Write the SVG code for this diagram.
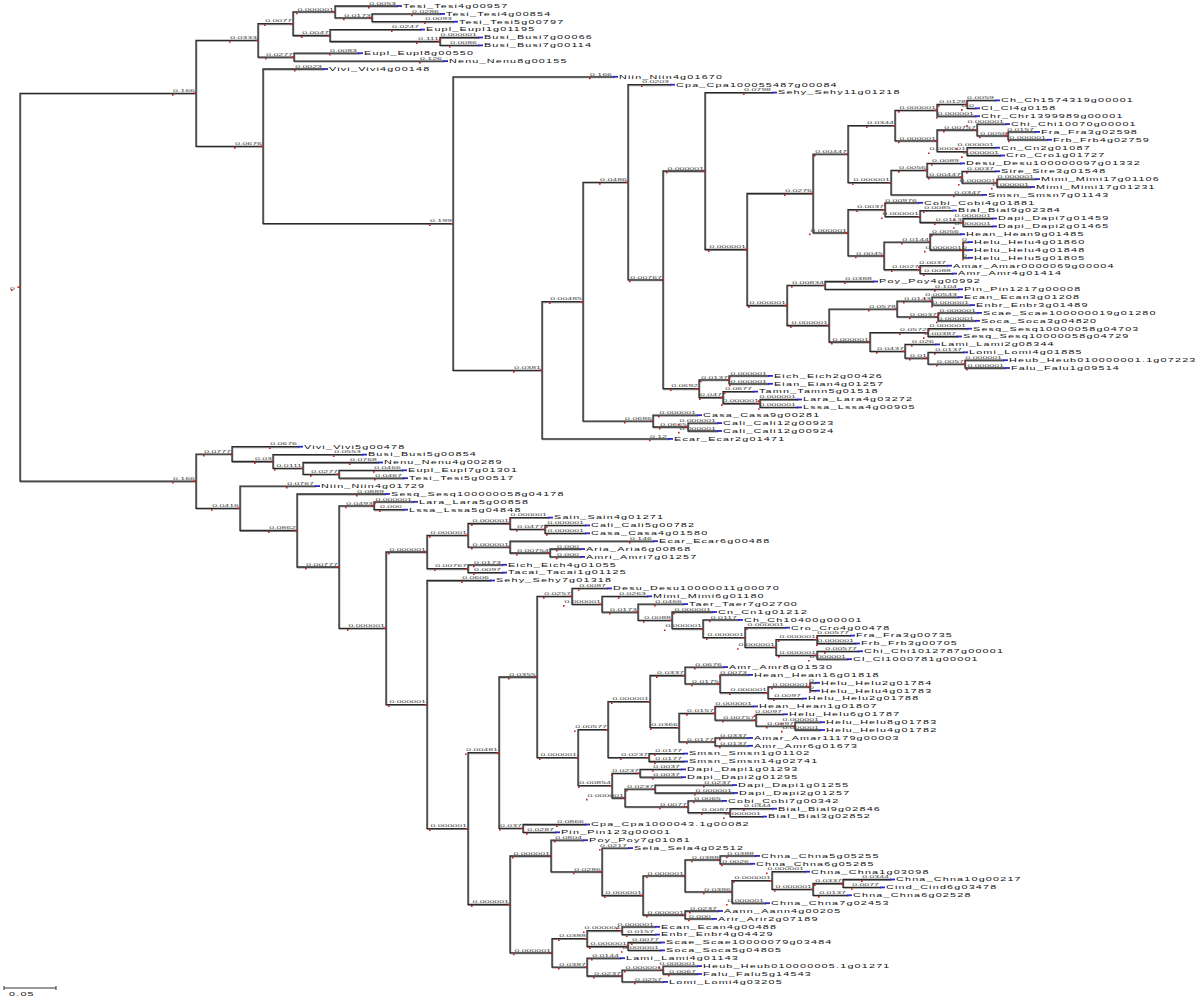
<svg xmlns="http://www.w3.org/2000/svg" xmlns:xlink="http://www.w3.org/1999/xlink" width="1200" height="1000" viewBox="0 0 1200 1000">
<style>
.e{stroke:#2a2a2a;stroke-width:1.3;fill:none;stroke-linecap:square}
.s{stroke:#9a9a9a;stroke-width:1.3;fill:none;stroke-linecap:square}
.l{font-family:"Liberation Sans",Arial,sans-serif;font-size:4.4px;fill:#444;text-anchor:end;transform:scale(2,1)}
.n{font-family:"Liberation Sans",Arial,sans-serif;font-size:5.4px;letter-spacing:0.6px;fill:#111;transform:scale(2,1)}
.r{fill:#d01c1c}
.b{stroke:#2a2acc;stroke-width:1.8}
</style>
<defs>
<path id="br" d="M20 93.3V481.2M20 93.3H196M196 40.4V146.3M196 40.4H258M258 23.7V57.2M258 23.7H293M293 11.9V35.5M293 11.9H335M335 6V17.8M335 6H397M335 17.8H372M372 13.9V21.7M372 13.9H440M372 21.7H453M293 35.5H330M330 29.6V41.5M330 29.6H420M330 41.5H440M440 37.5V45.4M440 37.5H478M440 45.4H478M258 57.2H294M294 53.2V61.1M294 53.2H358M294 61.1H443M196 146.3H263M263 69V223.6M263 69H323M263 223.6H453M453 76.8V370.3M453 76.8H613M453 370.3H542M542 301.7V438.9M542 301.7H583M583 182.3V421.1M583 182.3H628M628 84.7V279.9M628 84.7H670M628 279.9H663M663 171V388.7M663 171H705M705 92.6V249.5M705 92.6H772M705 249.5H747M747 193.5V305.5M747 193.5H813M813 154.1V232.8M813 154.1H848M848 125.6V182.6M848 125.6H895M895 110.3V140.8M895 110.3H937M937 104.4V116.2M937 104.4H967M967 100.4V108.3M967 100.4H995M967 108.3H975M937 116.2H975M895 140.8H937M937 130V151.6M937 130H977M977 124.1V135.9M977 124.1H1005M977 135.9H1008M1008 131.9V139.8M1008 131.9H1035M1008 139.8H1047M937 151.6H967M967 147.7V155.5M967 147.7H995M967 155.5H1000M848 182.6H891M891 170.3V194.9M891 170.3H927M927 163.4V177.2M927 163.4H960M927 177.2H962M962 171.3V183.1M962 171.3H995M962 183.1H997M997 179.1V187M997 179.1H1035M997 187H1030M891 194.9H982M813 232.8H848M848 209.7V255.9M848 209.7H885M885 202.8V216.6M885 202.8H918M885 216.6H920M920 210.6V222.5M920 210.6H952M920 222.5H963M963 218.5V226.4M963 218.5H992M963 226.4H992M848 255.9H884M884 242.1V269.7M884 242.1H930M930 234.2V250M930 234.2H960M930 250H963M963 242.1V257.8M963 242.1H968M963 250H968M963 257.8H968M884 269.7H920M920 265.7V273.6M920 265.7H947M920 273.6H952M747 305.5H787M787 285.4V325.5M787 285.4H825M825 281.5V289.3M825 281.5H873M825 289.3H958M787 325.5H829M829 309.1V342M829 309.1H897M897 301.2V316.9M897 301.2H932M932 297.2V305.1M932 297.2H958M932 305.1H970M897 316.9H938M938 312.9V320.8M938 312.9H977M938 320.8H975M829 342H870M870 332.6V351.3M870 332.6H928M928 328.7V336.5M928 328.7H967M928 336.5H957M870 351.3H905M905 344.4V358.2M905 344.4H935M905 358.2H928M928 352.3V364.1M928 352.3H963M928 364.1H965M965 360.2V368M965 360.2H1003M965 368H1005M663 388.7H699M699 379.9V397.5M699 379.9H729M729 375.9V383.8M729 375.9H768M729 383.8H768M699 397.5H723M723 391.6V403.5M723 391.6H753M723 403.5H760M760 399.5V407.4M760 399.5H797M760 407.4H797M583 421.1H653M653 415.2V427M653 415.2H697M653 427H688M688 423.1V431M688 423.1H717M688 431H717M542 438.9H668M20 481.2H196M196 454.1V508.3M196 454.1H232M232 446.7V461.5M232 446.7H298M232 461.5H273M273 454.6V468.4M273 454.6H362M273 468.4H303M303 462.5V474.3M303 462.5H378M303 474.3H339M339 470.3V478.2M339 470.3H402M339 478.2H403M196 508.3H240M240 486.1V530.5M240 486.1H315M240 530.5H297M297 494V567M297 494H385M297 567H339M339 505.8V628.3M339 505.8H374M374 501.8V509.7M374 501.8H413M374 509.7H403M339 628.3H386M386 552V704.6M386 552H427M427 535.3V568.7M427 535.3H468M468 523.5V547.1M468 523.5H510M510 517.6V529.4M510 517.6H548M510 529.4H545M545 525.4V533.3M545 525.4H585M545 533.3H585M468 547.1H510M510 541.2V553M510 541.2H653M510 553H550M550 549V556.9M550 549H580M550 556.9H580M427 568.7H468M468 564.8V572.6M468 564.8H502M468 572.6H502M386 704.6H427M427 580.5V828.6M427 580.5H490M427 828.6H468M468 752.7V904.5M468 752.7H499M499 677V828.4M499 677H537M537 596.3V757.6M537 596.3H572M572 588.4V604.3M572 588.4H607M572 604.3H602M602 596.3V612.2M602 596.3H647M602 612.2H638M638 604.1V620.4M638 604.1H683M638 620.4H672M672 612V628.7M672 612H712M672 628.7H703M703 619.9V637.6M703 619.9H738M703 637.6H745M745 627.7V647.4M745 627.7H785M745 647.4H776M776 639.6V655.3M776 639.6H817M817 635.6V643.5M817 635.6H850M817 643.5H855M776 655.3H817M817 651.3V659.2M817 651.3H858M817 659.2H847M537 757.6H578M578 729.6V785.6M578 729.6H608M608 701.6V757.6M608 701.6H650M650 675.5V727.6M650 675.5H685M685 667.1V683.8M685 667.1H723M685 683.8H720M720 674.9V692.7M720 674.9H748M720 692.7H768M768 686.8V698.6M768 686.8H810M810 682.8V690.7M810 682.8H815M810 690.7H815M768 698.6H802M650 727.6H679M679 713.3V741.9M679 713.3H715M715 706.4V720.2M715 706.4H753M715 720.2H756M756 714.3V726.1M756 714.3H783M756 726.1H795M795 722.2V730M795 722.2H820M795 730H820M679 741.9H715M715 737.9V745.8M715 737.9H748M715 745.8H748M608 757.6H649M649 753.6V761.5M649 753.6H683M649 761.5H683M578 785.6H612M612 773.3V798M612 773.3H640M640 769.4V777.2M640 769.4H681M640 777.2H681M612 798H625M625 789.1V806.8M625 789.1H655M655 785.1V793M655 785.1H732M655 793H733M625 806.8H688M688 800.9V812.7M688 800.9H722M688 812.7H730M730 808.7V816.6M730 808.7H772M730 816.6H762M499 828.4H523M523 824.5V832.3M523 824.5H585M523 832.3H555M468 904.5H510M510 856V952.9M510 856H551M551 840.2V871.8M551 840.2H583M551 871.8H602M602 848.1V895.5M602 848.1H628M602 895.5H643M643 875.9V915M643 875.9H685M685 859.9V891.9M685 859.9H720M720 855.9V863.8M720 855.9H755M720 863.8H750M685 891.9H732M732 880.6V903.2M732 880.6H772M772 871.7V889.4M772 871.7H805M772 889.4H813M813 883.5V895.3M813 883.5H843M843 879.5V887.4M843 879.5H890M843 887.4H880M813 895.3H847M732 903.2H765M643 915H685M685 911V918.9M685 911H718M685 918.9H712M510 952.9H552M552 938.6V967.1M552 938.6H587M587 930.7V946.5M587 930.7H622M622 926.8V934.6M622 926.8H655M622 934.6H655M587 946.5H628M628 942.5V950.4M628 942.5H660M628 950.4H660M552 967.1H587M587 958.2V976M587 958.2H620M587 976H622M622 970.1V981.9M622 970.1H663M663 966.1V974M663 966.1H697M663 974H697M622 981.9H663"/>
</defs>
<rect width="1200" height="1000" fill="#fff"/>
<g id="connectors">
<use xlink:href="#br" href="#br" class="s" transform="translate(0.7,0.8)"/>
<use xlink:href="#br" href="#br" class="e"/>
</g>
<g id="root"><text class="l" x="7.5" y="290">0</text><path class="r" d="M11 289.3h1.6v1.6h-1.6zM17.5 286.6h2.5v1.4h-2.5z"/></g>
<g id="nA"><text class="l" x="97.5" y="92.1">0.166</text><path class="r" d="M172 94.1h1.6v1.6h-1.6zM193.5 92.6h2.5v1.4h-2.5z"/></g>
<g id="n258"><text class="l" x="128.5" y="39.2">0.0333</text><path class="r" d="M229 41.2h1.6v1.6h-1.6zM255.5 39.7h2.5v1.4h-2.5z"/></g>
<g id="n293"><text class="l" x="146" y="22.5">0.0077</text><path class="r" d="M264 24.5h1.6v1.6h-1.6zM290.5 23h2.5v1.4h-2.5z"/></g>
<g id="n335"><text class="l" x="167" y="10.7">0.000001</text><path class="r" d="M296 12.7h1.6v1.6h-1.6zM332.5 11.2h2.5v1.4h-2.5z"/></g>
<g id="L0"><text class="l" x="198" y="4.8">0.0053</text><path class="r" d="M368 6.8h1.6v1.6h-1.6z"/><path class="b" d="M397 6h5"/><text class="n" x="201.5" y="7.9">Tesi_Tesi4g00957</text></g>
<g id="n372"><text class="l" x="185.5" y="16.6">0.0173</text><path class="r" d="M343 18.6h1.6v1.6h-1.6zM369.5 17.1h2.5v1.4h-2.5z"/></g>
<g id="L1"><text class="l" x="219.5" y="12.7">0.0286</text><path class="r" d="M411 14.7h1.6v1.6h-1.6z"/><path class="b" d="M440 13.9h5"/><text class="n" x="223" y="15.8">Tesi_Tesi4g00854</text></g>
<g id="L2"><text class="l" x="226" y="20.5">0.0093</text><path class="r" d="M424 22.5h1.6v1.6h-1.6z"/><path class="b" d="M453 21.7h5"/><text class="n" x="229.5" y="23.6">Tesi_Tesi5g00797</text></g>
<g id="n330"><text class="l" x="164.5" y="34.3">0.0047</text><path class="r" d="M301 36.3h1.6v1.6h-1.6zM327.5 34.8h2.5v1.4h-2.5z"/></g>
<g id="L3"><text class="l" x="209.5" y="28.4">0.0247</text><path class="r" d="M391 30.4h1.6v1.6h-1.6z"/><path class="b" d="M420 29.6h5"/><text class="n" x="213" y="31.5">Eupl_Eupl1g01195</text></g>
<g id="n440"><text class="l" x="219.5" y="40.3">0.111</text><path class="r" d="M416 42.3h1.6v1.6h-1.6zM437.5 40.8h2.5v1.4h-2.5z"/></g>
<g id="L4"><text class="l" x="238.5" y="36.3">0.000001</text><path class="r" d="M439 38.3h1.6v1.6h-1.6z"/><path class="b" d="M478 37.5h5"/><text class="n" x="242" y="39.4">Busi_Busi7g00066</text></g>
<g id="L5"><text class="l" x="238.5" y="44.2">0.0086</text><path class="r" d="M449 46.2h1.6v1.6h-1.6z"/><path class="b" d="M478 45.4h5"/><text class="n" x="242" y="47.3">Busi_Busi7g00114</text></g>
<g id="n294"><text class="l" x="146.5" y="56">0.0277</text><path class="r" d="M265 58h1.6v1.6h-1.6zM291.5 56.5h2.5v1.4h-2.5z"/></g>
<g id="L6"><text class="l" x="178.5" y="52">0.0083</text><path class="r" d="M329 54h1.6v1.6h-1.6z"/><path class="b" d="M358 53.2h5"/><text class="n" x="182" y="55.1">Eupl_Eupl8g00550</text></g>
<g id="L7"><text class="l" x="221" y="59.9">0.126</text><path class="r" d="M419 61.9h1.6v1.6h-1.6z"/><path class="b" d="M443 61.1h5"/><text class="n" x="224.5" y="63">Nenu_Nenu8g00155</text></g>
<g id="n263"><text class="l" x="131" y="145.1">0.0676</text><path class="r" d="M234 147.1h1.6v1.6h-1.6zM260.5 145.6h2.5v1.4h-2.5z"/></g>
<g id="L8"><text class="l" x="161" y="67.8">0.0023</text><path class="r" d="M294 69.8h1.6v1.6h-1.6z"/><path class="b" d="M323 69h5"/><text class="n" x="164.5" y="70.9">Vivi_Vivi4g00148</text></g>
<g id="n453"><text class="l" x="226" y="222.4">0.199</text><path class="r" d="M429 224.4h1.6v1.6h-1.6zM450.5 222.9h2.5v1.4h-2.5z"/></g>
<g id="L9"><text class="l" x="306" y="75.6">0.166</text><path class="r" d="M589 77.6h1.6v1.6h-1.6z"/><path class="b" d="M613 76.8h5"/><text class="n" x="309.5" y="78.7">Niin_Niin4g01670</text></g>
<g id="n542"><text class="l" x="270.5" y="369.1">0.0381</text><path class="r" d="M513 371.1h1.6v1.6h-1.6zM539.5 369.6h2.5v1.4h-2.5z"/></g>
<g id="n583"><text class="l" x="291" y="300.5">0.00485</text><path class="r" d="M549 302.5h1.6v1.6h-1.6zM580.5 301h2.5v1.4h-2.5z"/></g>
<g id="n628"><text class="l" x="313.5" y="181.1">0.0486</text><path class="r" d="M599 183.1h1.6v1.6h-1.6zM625.5 181.6h2.5v1.4h-2.5z"/></g>
<g id="L10"><text class="l" x="334.5" y="83.5">0.0203</text><path class="r" d="M641 85.5h1.6v1.6h-1.6z"/><path class="b" d="M670 84.7h5"/><text class="n" x="338" y="86.6">Cpa_Cpa100055487g00084</text></g>
<g id="n663"><text class="l" x="331" y="278.7">0.00767</text><path class="r" d="M629 280.7h1.6v1.6h-1.6zM660.5 279.2h2.5v1.4h-2.5z"/></g>
<g id="n705"><text class="l" x="352" y="169.8">0.000001</text><path class="r" d="M666 171.8h1.6v1.6h-1.6zM702.5 170.3h2.5v1.4h-2.5z"/></g>
<g id="L11"><text class="l" x="385.5" y="91.4">0.0798</text><path class="r" d="M743 93.4h1.6v1.6h-1.6z"/><path class="b" d="M772 92.6h5"/><text class="n" x="389" y="94.5">Sehy_Sehy11g01218</text></g>
<g id="n747"><text class="l" x="373" y="248.3">0.000001</text><path class="r" d="M708 250.3h1.6v1.6h-1.6zM744.5 248.8h2.5v1.4h-2.5z"/></g>
<g id="n813"><text class="l" x="406" y="192.3">0.0276</text><path class="r" d="M784 194.3h1.6v1.6h-1.6zM810.5 192.8h2.5v1.4h-2.5z"/></g>
<g id="n848a"><text class="l" x="423.5" y="152.9">0.00447</text><path class="r" d="M814 154.9h1.6v1.6h-1.6zM845.5 153.4h2.5v1.4h-2.5z"/></g>
<g id="n895"><text class="l" x="447" y="124.4">0.0344</text><path class="r" d="M866 126.4h1.6v1.6h-1.6zM892.5 124.9h2.5v1.4h-2.5z"/></g>
<g id="n937a"><text class="l" x="468" y="109.1">0.000001</text><path class="r" d="M898 111.1h1.6v1.6h-1.6zM934.5 109.6h2.5v1.4h-2.5z"/></g>
<g id="n967a"><text class="l" x="483" y="103.2">0.0128</text><path class="r" d="M938 105.2h1.6v1.6h-1.6zM964.5 103.7h2.5v1.4h-2.5z"/></g>
<g id="L12"><text class="l" x="497" y="99.2">0.0059</text><path class="r" d="M966 101.2h1.6v1.6h-1.6z"/><path class="b" d="M995 100.4h5"/><text class="n" x="500.5" y="102.3">Ch_Ch1574319g00001</text></g>
<g id="L13"><text class="l" x="487" y="107.1">0.0</text><path class="r" d="M961 109.1h1.6v1.6h-1.6z"/><path class="b" d="M975 108.3h5"/><text class="n" x="490.5" y="110.2">Cl_Cl4g0158</text></g>
<g id="L14"><text class="l" x="487" y="115">0.000001</text><path class="r" d="M936 117h1.6v1.6h-1.6z"/><path class="b" d="M975 116.2h5"/><text class="n" x="490.5" y="118.1">Chr_Chr1399989g00001</text></g>
<g id="n937b"><text class="l" x="468" y="139.6">0.000001</text><path class="r" d="M898 141.6h1.6v1.6h-1.6zM934.5 140.1h2.5v1.4h-2.5z"/></g>
<g id="n977"><text class="l" x="488" y="128.8">0.00757</text><path class="r" d="M943 130.8h1.6v1.6h-1.6zM974.5 129.3h2.5v1.4h-2.5z"/></g>
<g id="L15"><text class="l" x="502" y="122.9">0.000001</text><path class="r" d="M966 124.9h1.6v1.6h-1.6z"/><path class="b" d="M1005 124.1h5"/><text class="n" x="505.5" y="126">Chi_Chi10070g00001</text></g>
<g id="n1008"><text class="l" x="503.5" y="134.7">0.0056</text><path class="r" d="M979 136.7h1.6v1.6h-1.6zM1005.5 135.2h2.5v1.4h-2.5z"/></g>
<g id="L16"><text class="l" x="517" y="130.7">0.0157</text><path class="r" d="M1006 132.7h1.6v1.6h-1.6z"/><path class="b" d="M1035 131.9h5"/><text class="n" x="520.5" y="133.8">Fra_Fra3g02598</text></g>
<g id="L17"><text class="l" x="523" y="138.6">0.000001</text><path class="r" d="M1008 140.6h1.6v1.6h-1.6z"/><path class="b" d="M1047 139.8h5"/><text class="n" x="526.5" y="141.7">Frb_Frb4g02759</text></g>
<g id="n967b"><text class="l" x="483" y="150.4">0.000001</text><path class="r" d="M928 152.4h1.6v1.6h-1.6zM964.5 150.9h2.5v1.4h-2.5z"/></g>
<g id="L18"><text class="l" x="497" y="146.5">0.000001</text><path class="r" d="M956 148.5h1.6v1.6h-1.6z"/><path class="b" d="M995 147.7h5"/><text class="n" x="500.5" y="149.6">Cn_Cn2g01087</text></g>
<g id="L19"><text class="l" x="499.5" y="154.3">0.000001</text><path class="r" d="M961 156.3h1.6v1.6h-1.6z"/><path class="b" d="M1000 155.5h5"/><text class="n" x="503" y="157.4">Cro_Cro1g01727</text></g>
<g id="n891"><text class="l" x="445" y="181.4">0.000001</text><path class="r" d="M852 183.4h1.6v1.6h-1.6zM888.5 181.9h2.5v1.4h-2.5z"/></g>
<g id="n927"><text class="l" x="463" y="169.1">0.0056</text><path class="r" d="M898 171.1h1.6v1.6h-1.6zM924.5 169.6h2.5v1.4h-2.5z"/></g>
<g id="L20"><text class="l" x="479.5" y="162.2">0.0089</text><path class="r" d="M931 164.2h1.6v1.6h-1.6z"/><path class="b" d="M960 163.4h5"/><text class="n" x="483" y="165.3">Desu_Desu100000097g01332</text></g>
<g id="n962"><text class="l" x="480.5" y="176">0.00447</text><path class="r" d="M928 178h1.6v1.6h-1.6zM959.5 176.5h2.5v1.4h-2.5z"/></g>
<g id="L21"><text class="l" x="497" y="170.1">0.0037</text><path class="r" d="M966 172.1h1.6v1.6h-1.6z"/><path class="b" d="M995 171.3h5"/><text class="n" x="500.5" y="173.2">Sire_Sire3g01548</text></g>
<g id="n997"><text class="l" x="498" y="181.9">0.000001</text><path class="r" d="M958 183.9h1.6v1.6h-1.6zM994.5 182.4h2.5v1.4h-2.5z"/></g>
<g id="L22"><text class="l" x="517" y="177.9">0.000001</text><path class="r" d="M996 179.9h1.6v1.6h-1.6z"/><path class="b" d="M1035 179.1h5"/><text class="n" x="520.5" y="181">Mimi_Mimi17g01106</text></g>
<g id="L23"><text class="l" x="514.5" y="185.8">0.000001</text><path class="r" d="M991 187.8h1.6v1.6h-1.6z"/><path class="b" d="M1030 187h5"/><text class="n" x="518" y="188.9">Mimi_Mimi17g01231</text></g>
<g id="L24"><text class="l" x="490.5" y="193.7">0.0347</text><path class="r" d="M953 195.7h1.6v1.6h-1.6z"/><path class="b" d="M982 194.9h5"/><text class="n" x="494" y="196.8">Smsn_Smsn7g01143</text></g>
<g id="n848b"><text class="l" x="423.5" y="231.6">0.000001</text><path class="r" d="M809 233.6h1.6v1.6h-1.6zM845.5 232.1h2.5v1.4h-2.5z"/></g>
<g id="n885"><text class="l" x="442" y="208.5">0.0037</text><path class="r" d="M856 210.5h1.6v1.6h-1.6zM882.5 209h2.5v1.4h-2.5z"/></g>
<g id="L25"><text class="l" x="458.5" y="201.6">0.00976</text><path class="r" d="M884 203.6h1.6v1.6h-1.6z"/><path class="b" d="M918 202.8h5"/><text class="n" x="462" y="204.7">Cobi_Cobi4g01881</text></g>
<g id="n920"><text class="l" x="459.5" y="215.4">0.000001</text><path class="r" d="M881 217.4h1.6v1.6h-1.6zM917.5 215.9h2.5v1.4h-2.5z"/></g>
<g id="L26"><text class="l" x="475.5" y="209.4">0.0085</text><path class="r" d="M923 211.4h1.6v1.6h-1.6z"/><path class="b" d="M952 210.6h5"/><text class="n" x="479" y="212.5">Bial_Bial9g02384</text></g>
<g id="n963a"><text class="l" x="481" y="221.3">0.0113</text><path class="r" d="M934 223.3h1.6v1.6h-1.6zM960.5 221.8h2.5v1.4h-2.5z"/></g>
<g id="L27"><text class="l" x="495.5" y="217.3">0.000001</text><path class="r" d="M953 219.3h1.6v1.6h-1.6z"/><path class="b" d="M992 218.5h5"/><text class="n" x="499" y="220.4">Dapi_Dapi7g01459</text></g>
<g id="L28"><text class="l" x="495.5" y="225.2">0.000001</text><path class="r" d="M953 227.2h1.6v1.6h-1.6z"/><path class="b" d="M992 226.4h5"/><text class="n" x="499" y="228.3">Dapi_Dapi2g01465</text></g>
<g id="n884"><text class="l" x="441.5" y="254.7">0.0045</text><path class="r" d="M855 256.7h1.6v1.6h-1.6zM881.5 255.2h2.5v1.4h-2.5z"/></g>
<g id="n930"><text class="l" x="464.5" y="240.9">0.0144</text><path class="r" d="M901 242.9h1.6v1.6h-1.6zM927.5 241.4h2.5v1.4h-2.5z"/></g>
<g id="L29"><text class="l" x="479.5" y="233">0.0056</text><path class="r" d="M931 235h1.6v1.6h-1.6z"/><path class="b" d="M960 234.2h5"/><text class="n" x="483" y="236.1">Hean_Hean9g01485</text></g>
<g id="n963b"><text class="l" x="481" y="248.8">0.000001</text><path class="r" d="M924 250.8h1.6v1.6h-1.6zM960.5 249.3h2.5v1.4h-2.5z"/></g>
<g id="L30"><text class="l" x="483.5" y="240.9">0</text><path class="r" d="M962 242.9h1.6v1.6h-1.6z"/><path class="b" d="M968 242.1h5"/><text class="n" x="487" y="244">Helu_Helu4g01860</text></g>
<g id="L31"><text class="l" x="483.5" y="248.8">0</text><path class="r" d="M962 250.8h1.6v1.6h-1.6z"/><path class="b" d="M968 250h5"/><text class="n" x="487" y="251.9">Helu_Helu4g01848</text></g>
<g id="L32"><text class="l" x="483.5" y="256.6">0</text><path class="r" d="M962 258.6h1.6v1.6h-1.6z"/><path class="b" d="M968 257.8h5"/><text class="n" x="487" y="259.7">Helu_Helu5g01805</text></g>
<g id="n920b"><text class="l" x="459.5" y="268.5">0.0027</text><path class="r" d="M891 270.5h1.6v1.6h-1.6zM917.5 269h2.5v1.4h-2.5z"/></g>
<g id="L33"><text class="l" x="473" y="264.5">0.0037</text><path class="r" d="M918 266.5h1.6v1.6h-1.6z"/><path class="b" d="M947 265.7h5"/><text class="n" x="476.5" y="267.6">Amar_Amar0000069g00004</text></g>
<g id="L34"><text class="l" x="475.5" y="272.4">0.0088</text><path class="r" d="M923 274.4h1.6v1.6h-1.6z"/><path class="b" d="M952 273.6h5"/><text class="n" x="479" y="275.5">Amr_Amr4g01414</text></g>
<g id="n787"><text class="l" x="393" y="304.3">0.000001</text><path class="r" d="M748 306.3h1.6v1.6h-1.6zM784.5 304.8h2.5v1.4h-2.5z"/></g>
<g id="n825"><text class="l" x="412" y="284.2">0.00834</text><path class="r" d="M791 286.2h1.6v1.6h-1.6zM822.5 284.7h2.5v1.4h-2.5z"/></g>
<g id="L35"><text class="l" x="436" y="280.3">0.0388</text><path class="r" d="M844 282.3h1.6v1.6h-1.6z"/><path class="b" d="M873 281.5h5"/><text class="n" x="439.5" y="283.4">Poy_Poy4g00992</text></g>
<g id="L36"><text class="l" x="478.5" y="288.1">0.104</text><path class="r" d="M934 290.1h1.6v1.6h-1.6z"/><path class="b" d="M958 289.3h5"/><text class="n" x="482" y="291.2">Pin_Pin1217g00008</text></g>
<g id="n829"><text class="l" x="414" y="324.3">0.000001</text><path class="r" d="M790 326.3h1.6v1.6h-1.6zM826.5 324.8h2.5v1.4h-2.5z"/></g>
<g id="n897"><text class="l" x="448" y="307.9">0.0578</text><path class="r" d="M868 309.9h1.6v1.6h-1.6zM894.5 308.4h2.5v1.4h-2.5z"/></g>
<g id="n932"><text class="l" x="465.5" y="300">0.0143</text><path class="r" d="M903 302h1.6v1.6h-1.6zM929.5 300.5h2.5v1.4h-2.5z"/></g>
<g id="L37"><text class="l" x="478.5" y="296">0.00543</text><path class="r" d="M924 298h1.6v1.6h-1.6z"/><path class="b" d="M958 297.2h5"/><text class="n" x="482" y="299.1">Ecan_Ecan3g01208</text></g>
<g id="L38"><text class="l" x="484.5" y="303.9">0.000001</text><path class="r" d="M931 305.9h1.6v1.6h-1.6z"/><path class="b" d="M970 305.1h5"/><text class="n" x="488" y="307">Enbr_Enbr3g01489</text></g>
<g id="n938"><text class="l" x="468.5" y="315.7">0.0037</text><path class="r" d="M909 317.7h1.6v1.6h-1.6zM935.5 316.2h2.5v1.4h-2.5z"/></g>
<g id="L39"><text class="l" x="488" y="311.7">0.000001</text><path class="r" d="M938 313.7h1.6v1.6h-1.6z"/><path class="b" d="M977 312.9h5"/><text class="n" x="491.5" y="314.8">Scae_Scae100000019g01280</text></g>
<g id="L40"><text class="l" x="487" y="319.6">0.000001</text><path class="r" d="M936 321.6h1.6v1.6h-1.6z"/><path class="b" d="M975 320.8h5"/><text class="n" x="490.5" y="322.7">Soca_Soca3g04820</text></g>
<g id="n870"><text class="l" x="434.5" y="340.8">0.000001</text><path class="r" d="M831 342.8h1.6v1.6h-1.6zM867.5 341.3h2.5v1.4h-2.5z"/></g>
<g id="n928a"><text class="l" x="463.5" y="331.4">0.0572</text><path class="r" d="M899 333.4h1.6v1.6h-1.6zM925.5 331.9h2.5v1.4h-2.5z"/></g>
<g id="L41"><text class="l" x="483" y="327.5">0.000001</text><path class="r" d="M928 329.5h1.6v1.6h-1.6z"/><path class="b" d="M967 328.7h5"/><text class="n" x="486.5" y="330.6">Sesq_Sesq10000058g04703</text></g>
<g id="L42"><text class="l" x="478" y="335.3">0.00387</text><path class="r" d="M923 337.3h1.6v1.6h-1.6z"/><path class="b" d="M957 336.5h5"/><text class="n" x="481.5" y="338.4">Sesq_Sesq10000058g04729</text></g>
<g id="n905"><text class="l" x="452" y="350.1">0.0437</text><path class="r" d="M876 352.1h1.6v1.6h-1.6zM902.5 350.6h2.5v1.4h-2.5z"/></g>
<g id="L43"><text class="l" x="467" y="343.2">0.026</text><path class="r" d="M911 345.2h1.6v1.6h-1.6z"/><path class="b" d="M935 344.4h5"/><text class="n" x="470.5" y="346.3">Lami_Lami2g08344</text></g>
<g id="n928b"><text class="l" x="463.5" y="357">0.01</text><path class="r" d="M909 359h1.6v1.6h-1.6zM925.5 357.5h2.5v1.4h-2.5z"/></g>
<g id="L44"><text class="l" x="481" y="351.1">0.0137</text><path class="r" d="M934 353.1h1.6v1.6h-1.6z"/><path class="b" d="M963 352.3h5"/><text class="n" x="484.5" y="354.2">Lomi_Lomi4g01885</text></g>
<g id="n965"><text class="l" x="482" y="362.9">0.0057</text><path class="r" d="M936 364.9h1.6v1.6h-1.6zM962.5 363.4h2.5v1.4h-2.5z"/></g>
<g id="L45"><text class="l" x="501" y="359">0.000001</text><path class="r" d="M964 361h1.6v1.6h-1.6z"/><path class="b" d="M1003 360.2h5"/><text class="n" x="504.5" y="362.1">Heub_Heub010000001.1g07223</text></g>
<g id="L46"><text class="l" x="502" y="366.8">0.000001</text><path class="r" d="M966 368.8h1.6v1.6h-1.6z"/><path class="b" d="M1005 368h5"/><text class="n" x="505.5" y="369.9">Falu_Falu1g09514</text></g>
<g id="n699"><text class="l" x="349" y="387.5">0.0692</text><path class="r" d="M670 389.5h1.6v1.6h-1.6zM696.5 388h2.5v1.4h-2.5z"/></g>
<g id="n729"><text class="l" x="364" y="378.7">0.0137</text><path class="r" d="M700 380.7h1.6v1.6h-1.6zM726.5 379.2h2.5v1.4h-2.5z"/></g>
<g id="L47"><text class="l" x="383.5" y="374.7">0.000001</text><path class="r" d="M729 376.7h1.6v1.6h-1.6z"/><path class="b" d="M768 375.9h5"/><text class="n" x="387" y="377.8">Eich_Eich2g00426</text></g>
<g id="L48"><text class="l" x="383.5" y="382.6">0.000001</text><path class="r" d="M729 384.6h1.6v1.6h-1.6z"/><path class="b" d="M768 383.8h5"/><text class="n" x="387" y="385.7">Eian_Eian4g01257</text></g>
<g id="n723"><text class="l" x="361" y="396.3">0.047</text><path class="r" d="M699 398.3h1.6v1.6h-1.6zM720.5 396.8h2.5v1.4h-2.5z"/></g>
<g id="L49"><text class="l" x="376" y="390.4">0.0677</text><path class="r" d="M724 392.4h1.6v1.6h-1.6z"/><path class="b" d="M753 391.6h5"/><text class="n" x="379.5" y="393.5">Tamn_Tamn5g01518</text></g>
<g id="n760"><text class="l" x="379.5" y="402.3">0.000001</text><path class="r" d="M721 404.3h1.6v1.6h-1.6zM757.5 402.8h2.5v1.4h-2.5z"/></g>
<g id="L50"><text class="l" x="398" y="398.3">0.000001</text><path class="r" d="M758 400.3h1.6v1.6h-1.6z"/><path class="b" d="M797 399.5h5"/><text class="n" x="401.5" y="401.4">Lara_Lara4g03272</text></g>
<g id="L51"><text class="l" x="398" y="406.2">0.000001</text><path class="r" d="M758 408.2h1.6v1.6h-1.6z"/><path class="b" d="M797 407.4h5"/><text class="n" x="401.5" y="409.3">Lssa_Lssa4g00905</text></g>
<g id="n653"><text class="l" x="326" y="419.9">0.0686</text><path class="r" d="M624 421.9h1.6v1.6h-1.6zM650.5 420.4h2.5v1.4h-2.5z"/></g>
<g id="L52"><text class="l" x="348" y="414">0.000001</text><path class="r" d="M658 416h1.6v1.6h-1.6z"/><path class="b" d="M697 415.2h5"/><text class="n" x="351.5" y="417.1">Casa_Casa9g00281</text></g>
<g id="n688"><text class="l" x="343.5" y="425.8">0.0665</text><path class="r" d="M659 427.8h1.6v1.6h-1.6zM685.5 426.3h2.5v1.4h-2.5z"/></g>
<g id="L53"><text class="l" x="358" y="421.9">0.000001</text><path class="r" d="M678 423.9h1.6v1.6h-1.6z"/><path class="b" d="M717 423.1h5"/><text class="n" x="361.5" y="425">Cali_Cali12g00923</text></g>
<g id="L54"><text class="l" x="358" y="429.8">0.000001</text><path class="r" d="M678 431.8h1.6v1.6h-1.6z"/><path class="b" d="M717 431h5"/><text class="n" x="361.5" y="432.9">Cali_Cali12g00924</text></g>
<g id="L55"><text class="l" x="333.5" y="437.7">0.12</text><path class="r" d="M649 439.7h1.6v1.6h-1.6z"/><path class="b" d="M668 438.9h5"/><text class="n" x="337" y="440.8">Ecar_Ecar2g01471</text></g>
<g id="nB"><text class="l" x="97.5" y="480">0.166</text><path class="r" d="M172 482h1.6v1.6h-1.6zM193.5 480.5h2.5v1.4h-2.5z"/></g>
<g id="n232"><text class="l" x="115.5" y="452.9">0.0777</text><path class="r" d="M203 454.9h1.6v1.6h-1.6zM229.5 453.4h2.5v1.4h-2.5z"/></g>
<g id="L56"><text class="l" x="148.5" y="445.5">0.0676</text><path class="r" d="M269 447.5h1.6v1.6h-1.6z"/><path class="b" d="M298 446.7h5"/><text class="n" x="152" y="448.6">Vivi_Vivi5g00478</text></g>
<g id="n273"><text class="l" x="136" y="460.3">0.03</text><path class="r" d="M254 462.3h1.6v1.6h-1.6zM270.5 460.8h2.5v1.4h-2.5z"/></g>
<g id="L57"><text class="l" x="180.5" y="453.4">0.0553</text><path class="r" d="M333 455.4h1.6v1.6h-1.6z"/><path class="b" d="M362 454.6h5"/><text class="n" x="184" y="456.5">Busi_Busi5g00854</text></g>
<g id="n303"><text class="l" x="151" y="467.2">0.0111</text><path class="r" d="M274 469.2h1.6v1.6h-1.6zM300.5 467.7h2.5v1.4h-2.5z"/></g>
<g id="L58"><text class="l" x="188.5" y="461.3">0.0768</text><path class="r" d="M349 463.3h1.6v1.6h-1.6z"/><path class="b" d="M378 462.5h5"/><text class="n" x="192" y="464.4">Nenu_Nenu4g00289</text></g>
<g id="n339b"><text class="l" x="169" y="473.1">0.0277</text><path class="r" d="M310 475.1h1.6v1.6h-1.6zM336.5 473.6h2.5v1.4h-2.5z"/></g>
<g id="L59"><text class="l" x="200.5" y="469.1">0.0466</text><path class="r" d="M373 471.1h1.6v1.6h-1.6z"/><path class="b" d="M402 470.3h5"/><text class="n" x="204" y="472.2">Eupl_Eupl7g01301</text></g>
<g id="L60"><text class="l" x="201" y="477">0.0467</text><path class="r" d="M374 479h1.6v1.6h-1.6z"/><path class="b" d="M403 478.2h5"/><text class="n" x="204.5" y="480.1">Tesi_Tesi5g00517</text></g>
<g id="n240"><text class="l" x="119.5" y="507.1">0.0416</text><path class="r" d="M211 509.1h1.6v1.6h-1.6zM237.5 507.6h2.5v1.4h-2.5z"/></g>
<g id="L61"><text class="l" x="157" y="484.9">0.0767</text><path class="r" d="M286 486.9h1.6v1.6h-1.6z"/><path class="b" d="M315 486.1h5"/><text class="n" x="160.5" y="488">Niin_Niin4g01729</text></g>
<g id="n297"><text class="l" x="148" y="529.3">0.0862</text><path class="r" d="M268 531.3h1.6v1.6h-1.6zM294.5 529.8h2.5v1.4h-2.5z"/></g>
<g id="L62"><text class="l" x="192" y="492.8">0.0889</text><path class="r" d="M356 494.8h1.6v1.6h-1.6z"/><path class="b" d="M385 494h5"/><text class="n" x="195.5" y="495.9">Sesq_Sesq100000058g04178</text></g>
<g id="n339"><text class="l" x="169" y="565.8">0.00777</text><path class="r" d="M305 567.8h1.6v1.6h-1.6zM336.5 566.3h2.5v1.4h-2.5z"/></g>
<g id="n374"><text class="l" x="186.5" y="504.6">0.0493</text><path class="r" d="M345 506.6h1.6v1.6h-1.6zM371.5 505.1h2.5v1.4h-2.5z"/></g>
<g id="L63"><text class="l" x="206" y="500.6">0.000001</text><path class="r" d="M374 502.6h1.6v1.6h-1.6z"/><path class="b" d="M413 501.8h5"/><text class="n" x="209.5" y="503.7">Lara_Lara5g00858</text></g>
<g id="L64"><text class="l" x="201" y="508.5">0.000</text><path class="r" d="M379 510.5h1.6v1.6h-1.6z"/><path class="b" d="M403 509.7h5"/><text class="n" x="204.5" y="511.6">Lssa_Lssa5g04848</text></g>
<g id="n386"><text class="l" x="192.5" y="627.1">0.000001</text><path class="r" d="M347 629.1h1.6v1.6h-1.6zM383.5 627.6h2.5v1.4h-2.5z"/></g>
<g id="n427a"><text class="l" x="213" y="550.8">0.000001</text><path class="r" d="M388 552.8h1.6v1.6h-1.6zM424.5 551.3h2.5v1.4h-2.5z"/></g>
<g id="n468a"><text class="l" x="233.5" y="534.1">0.000001</text><path class="r" d="M429 536.1h1.6v1.6h-1.6zM465.5 534.6h2.5v1.4h-2.5z"/></g>
<g id="n510a"><text class="l" x="254.5" y="522.3">0.000001</text><path class="r" d="M471 524.3h1.6v1.6h-1.6zM507.5 522.8h2.5v1.4h-2.5z"/></g>
<g id="L65"><text class="l" x="273.5" y="516.4">0.000001</text><path class="r" d="M509 518.4h1.6v1.6h-1.6z"/><path class="b" d="M548 517.6h5"/><text class="n" x="277" y="519.5">Sain_Sain4g01271</text></g>
<g id="n545"><text class="l" x="272" y="528.2">0.0477</text><path class="r" d="M516 530.2h1.6v1.6h-1.6zM542.5 528.7h2.5v1.4h-2.5z"/></g>
<g id="L66"><text class="l" x="292" y="524.2">0.000001</text><path class="r" d="M546 526.2h1.6v1.6h-1.6z"/><path class="b" d="M585 525.4h5"/><text class="n" x="295.5" y="527.3">Cali_Cali5g00782</text></g>
<g id="L67"><text class="l" x="292" y="532.1">0.000001</text><path class="r" d="M546 534.1h1.6v1.6h-1.6z"/><path class="b" d="M585 533.3h5"/><text class="n" x="295.5" y="535.2">Casa_Casa4g01580</text></g>
<g id="n510b"><text class="l" x="254.5" y="545.9">0.000001</text><path class="r" d="M471 547.9h1.6v1.6h-1.6zM507.5 546.4h2.5v1.4h-2.5z"/></g>
<g id="L68"><text class="l" x="326" y="540">0.146</text><path class="r" d="M629 542h1.6v1.6h-1.6z"/><path class="b" d="M653 541.2h5"/><text class="n" x="329.5" y="543.1">Ecar_Ecar6g00488</text></g>
<g id="n550"><text class="l" x="274.5" y="551.8">0.00754</text><path class="r" d="M516 553.8h1.6v1.6h-1.6zM547.5 552.3h2.5v1.4h-2.5z"/></g>
<g id="L69"><text class="l" x="289.5" y="547.8">0.000</text><path class="r" d="M556 549.8h1.6v1.6h-1.6z"/><path class="b" d="M580 549h5"/><text class="n" x="293" y="550.9">Aria_Aria6g00868</text></g>
<g id="L70"><text class="l" x="289.5" y="555.7">0.000</text><path class="r" d="M556 557.7h1.6v1.6h-1.6z"/><path class="b" d="M580 556.9h5"/><text class="n" x="293" y="558.8">Amri_Amri7g01257</text></g>
<g id="n468b"><text class="l" x="233.5" y="567.5">0.00767</text><path class="r" d="M434 569.5h1.6v1.6h-1.6zM465.5 568h2.5v1.4h-2.5z"/></g>
<g id="L71"><text class="l" x="250.5" y="563.6">0.0173</text><path class="r" d="M473 565.6h1.6v1.6h-1.6z"/><path class="b" d="M502 564.8h5"/><text class="n" x="254" y="566.7">Eich_Eich4g01055</text></g>
<g id="L72"><text class="l" x="250.5" y="571.4">0.0097</text><path class="r" d="M473 573.4h1.6v1.6h-1.6z"/><path class="b" d="M502 572.6h5"/><text class="n" x="254" y="574.5">Tacai_Tacai1g01125</text></g>
<g id="n427b"><text class="l" x="213" y="703.4">0.000001</text><path class="r" d="M388 705.4h1.6v1.6h-1.6zM424.5 703.9h2.5v1.4h-2.5z"/></g>
<g id="L73"><text class="l" x="244.5" y="579.3">0.0606</text><path class="r" d="M461 581.3h1.6v1.6h-1.6z"/><path class="b" d="M490 580.5h5"/><text class="n" x="248" y="582.4">Sehy_Sehy7g01318</text></g>
<g id="n468c"><text class="l" x="233.5" y="827.4">0.000001</text><path class="r" d="M429 829.4h1.6v1.6h-1.6zM465.5 827.9h2.5v1.4h-2.5z"/></g>
<g id="n499"><text class="l" x="249" y="751.5">0.00481</text><path class="r" d="M465 753.5h1.6v1.6h-1.6zM496.5 752h2.5v1.4h-2.5z"/></g>
<g id="n537"><text class="l" x="268" y="675.8">0.0355</text><path class="r" d="M508 677.8h1.6v1.6h-1.6zM534.5 676.3h2.5v1.4h-2.5z"/></g>
<g id="n572"><text class="l" x="285.5" y="595.1">0.0257</text><path class="r" d="M543 597.1h1.6v1.6h-1.6zM569.5 595.6h2.5v1.4h-2.5z"/></g>
<g id="L74"><text class="l" x="303" y="587.2">0.0087</text><path class="r" d="M578 589.2h1.6v1.6h-1.6z"/><path class="b" d="M607 588.4h5"/><text class="n" x="306.5" y="590.3">Desu_Desu10000011g00070</text></g>
<g id="n602"><text class="l" x="300.5" y="603.1">0.000001</text><path class="r" d="M563 605.1h1.6v1.6h-1.6zM599.5 603.6h2.5v1.4h-2.5z"/></g>
<g id="L75"><text class="l" x="323" y="595.1">0.0263</text><path class="r" d="M618 597.1h1.6v1.6h-1.6z"/><path class="b" d="M647 596.3h5"/><text class="n" x="326.5" y="598.2">Mimi_Mimi6g01180</text></g>
<g id="n638"><text class="l" x="318.5" y="611">0.0173</text><path class="r" d="M609 613h1.6v1.6h-1.6zM635.5 611.5h2.5v1.4h-2.5z"/></g>
<g id="L76"><text class="l" x="341" y="602.9">0.0466</text><path class="r" d="M654 604.9h1.6v1.6h-1.6z"/><path class="b" d="M683 604.1h5"/><text class="n" x="344.5" y="606">Taer_Taer7g02700</text></g>
<g id="n672"><text class="l" x="335.5" y="619.2">0.0088</text><path class="r" d="M643 621.2h1.6v1.6h-1.6zM669.5 619.7h2.5v1.4h-2.5z"/></g>
<g id="L77"><text class="l" x="355.5" y="610.8">0.000001</text><path class="r" d="M673 612.8h1.6v1.6h-1.6z"/><path class="b" d="M712 612h5"/><text class="n" x="359" y="613.9">Cn_Cn1g01212</text></g>
<g id="n703"><text class="l" x="351" y="627.5">0.000001</text><path class="r" d="M664 629.5h1.6v1.6h-1.6zM700.5 628h2.5v1.4h-2.5z"/></g>
<g id="L78"><text class="l" x="368.5" y="618.7">0.0117</text><path class="r" d="M709 620.7h1.6v1.6h-1.6z"/><path class="b" d="M738 619.9h5"/><text class="n" x="372" y="621.8">Ch_Ch10400g00001</text></g>
<g id="n745"><text class="l" x="372" y="636.4">0.000001</text><path class="r" d="M706 638.4h1.6v1.6h-1.6zM742.5 636.9h2.5v1.4h-2.5z"/></g>
<g id="L79"><text class="l" x="392" y="626.5">0.000001</text><path class="r" d="M746 628.5h1.6v1.6h-1.6z"/><path class="b" d="M785 627.7h5"/><text class="n" x="395.5" y="629.6">Cro_Cro4g00478</text></g>
<g id="n776"><text class="l" x="387.5" y="646.2">0.000001</text><path class="r" d="M737 648.2h1.6v1.6h-1.6zM773.5 646.7h2.5v1.4h-2.5z"/></g>
<g id="n817a"><text class="l" x="408" y="638.4">0.000001</text><path class="r" d="M778 640.4h1.6v1.6h-1.6zM814.5 638.9h2.5v1.4h-2.5z"/></g>
<g id="L80"><text class="l" x="424.5" y="634.4">0.00577</text><path class="r" d="M816 636.4h1.6v1.6h-1.6z"/><path class="b" d="M850 635.6h5"/><text class="n" x="428" y="637.5">Fra_Fra3g00735</text></g>
<g id="L81"><text class="l" x="427" y="642.3">0.000001</text><path class="r" d="M816 644.3h1.6v1.6h-1.6z"/><path class="b" d="M855 643.5h5"/><text class="n" x="430.5" y="645.4">Frb_Frb3g00705</text></g>
<g id="n817b"><text class="l" x="408" y="654.1">0.000001</text><path class="r" d="M778 656.1h1.6v1.6h-1.6zM814.5 654.6h2.5v1.4h-2.5z"/></g>
<g id="L82"><text class="l" x="428.5" y="650.1">0.00577</text><path class="r" d="M824 652.1h1.6v1.6h-1.6z"/><path class="b" d="M858 651.3h5"/><text class="n" x="432" y="653.2">Chi_Chi1012787g00001</text></g>
<g id="L83"><text class="l" x="423" y="658">0.000001</text><path class="r" d="M808 660h1.6v1.6h-1.6z"/><path class="b" d="M847 659.2h5"/><text class="n" x="426.5" y="661.1">Cl_Cl1000781g00001</text></g>
<g id="n578"><text class="l" x="288.5" y="756.4">0.000001</text><path class="r" d="M539 758.4h1.6v1.6h-1.6zM575.5 756.9h2.5v1.4h-2.5z"/></g>
<g id="n608"><text class="l" x="303.5" y="728.4">0.00577</text><path class="r" d="M574 730.4h1.6v1.6h-1.6zM605.5 728.9h2.5v1.4h-2.5z"/></g>
<g id="n650"><text class="l" x="324.5" y="700.4">0.000001</text><path class="r" d="M611 702.4h1.6v1.6h-1.6zM647.5 700.9h2.5v1.4h-2.5z"/></g>
<g id="n685"><text class="l" x="342" y="674.3">0.0337</text><path class="r" d="M656 676.3h1.6v1.6h-1.6zM682.5 674.8h2.5v1.4h-2.5z"/></g>
<g id="L84"><text class="l" x="361" y="665.9">0.0676</text><path class="r" d="M694 667.9h1.6v1.6h-1.6z"/><path class="b" d="M723 667.1h5"/><text class="n" x="364.5" y="669">Amr_Amr8g01530</text></g>
<g id="n720"><text class="l" x="359.5" y="682.6">0.0175</text><path class="r" d="M691 684.6h1.6v1.6h-1.6zM717.5 683.1h2.5v1.4h-2.5z"/></g>
<g id="L85"><text class="l" x="373.5" y="673.7">0.0073</text><path class="r" d="M719 675.7h1.6v1.6h-1.6z"/><path class="b" d="M748 674.9h5"/><text class="n" x="377" y="676.8">Hean_Hean16g01818</text></g>
<g id="n768"><text class="l" x="383.5" y="691.5">0.000001</text><path class="r" d="M729 693.5h1.6v1.6h-1.6zM765.5 692h2.5v1.4h-2.5z"/></g>
<g id="n810"><text class="l" x="404.5" y="685.6">0.000001</text><path class="r" d="M771 687.6h1.6v1.6h-1.6zM807.5 686.1h2.5v1.4h-2.5z"/></g>
<g id="L86"><text class="l" x="407" y="681.6">0</text><path class="r" d="M809 683.6h1.6v1.6h-1.6z"/><path class="b" d="M815 682.8h5"/><text class="n" x="410.5" y="684.7">Helu_Helu2g01784</text></g>
<g id="L87"><text class="l" x="407" y="689.5">0</text><path class="r" d="M809 691.5h1.6v1.6h-1.6z"/><path class="b" d="M815 690.7h5"/><text class="n" x="410.5" y="692.6">Helu_Helu4g01783</text></g>
<g id="L88"><text class="l" x="400.5" y="697.4">0.0097</text><path class="r" d="M773 699.4h1.6v1.6h-1.6z"/><path class="b" d="M802 698.6h5"/><text class="n" x="404" y="700.5">Helu_Helu2g01788</text></g>
<g id="n679"><text class="l" x="339" y="726.4">0.0366</text><path class="r" d="M650 728.4h1.6v1.6h-1.6zM676.5 726.9h2.5v1.4h-2.5z"/></g>
<g id="n715a"><text class="l" x="357" y="712.1">0.0157</text><path class="r" d="M686 714.1h1.6v1.6h-1.6zM712.5 712.6h2.5v1.4h-2.5z"/></g>
<g id="L89"><text class="l" x="376" y="705.2">0.000001</text><path class="r" d="M714 707.2h1.6v1.6h-1.6z"/><path class="b" d="M753 706.4h5"/><text class="n" x="379.5" y="708.3">Hean_Hean1g01807</text></g>
<g id="n756"><text class="l" x="377.5" y="719">0.00757</text><path class="r" d="M722 721h1.6v1.6h-1.6zM753.5 719.5h2.5v1.4h-2.5z"/></g>
<g id="L90"><text class="l" x="391" y="713.1">0.0097</text><path class="r" d="M754 715.1h1.6v1.6h-1.6z"/><path class="b" d="M783 714.3h5"/><text class="n" x="394.5" y="716.2">Helu_Helu6g01787</text></g>
<g id="n795"><text class="l" x="397" y="724.9">0.0097</text><path class="r" d="M766 726.9h1.6v1.6h-1.6zM792.5 725.4h2.5v1.4h-2.5z"/></g>
<g id="L91"><text class="l" x="409.5" y="721">0.000001</text><path class="r" d="M781 723h1.6v1.6h-1.6z"/><path class="b" d="M820 722.2h5"/><text class="n" x="413" y="724.1">Helu_Helu8g01783</text></g>
<g id="L92"><text class="l" x="409.5" y="728.8">0.000001</text><path class="r" d="M781 730.8h1.6v1.6h-1.6z"/><path class="b" d="M820 730h5"/><text class="n" x="413" y="731.9">Helu_Helu4g01782</text></g>
<g id="n715b"><text class="l" x="357" y="740.7">0.0177</text><path class="r" d="M686 742.7h1.6v1.6h-1.6zM712.5 741.2h2.5v1.4h-2.5z"/></g>
<g id="L93"><text class="l" x="373.5" y="736.7">0.0337</text><path class="r" d="M719 738.7h1.6v1.6h-1.6z"/><path class="b" d="M748 737.9h5"/><text class="n" x="377" y="739.8">Amar_Amar11179g00003</text></g>
<g id="L94"><text class="l" x="373.5" y="744.6">0.0137</text><path class="r" d="M719 746.6h1.6v1.6h-1.6z"/><path class="b" d="M748 745.8h5"/><text class="n" x="377" y="747.7">Amr_Amr6g01673</text></g>
<g id="n649"><text class="l" x="324" y="756.4">0.0237</text><path class="r" d="M620 758.4h1.6v1.6h-1.6zM646.5 756.9h2.5v1.4h-2.5z"/></g>
<g id="L95"><text class="l" x="341" y="752.4">0.0177</text><path class="r" d="M654 754.4h1.6v1.6h-1.6z"/><path class="b" d="M683 753.6h5"/><text class="n" x="344.5" y="755.5">Smsn_Smsn1g01102</text></g>
<g id="L96"><text class="l" x="341" y="760.3">0.0177</text><path class="r" d="M654 762.3h1.6v1.6h-1.6z"/><path class="b" d="M683 761.5h5"/><text class="n" x="344.5" y="763.4">Smsn_Smsn14g02741</text></g>
<g id="n612"><text class="l" x="305.5" y="784.4">0.00854</text><path class="r" d="M578 786.4h1.6v1.6h-1.6zM609.5 784.9h2.5v1.4h-2.5z"/></g>
<g id="n640"><text class="l" x="319.5" y="772.1">0.0237</text><path class="r" d="M611 774.1h1.6v1.6h-1.6zM637.5 772.6h2.5v1.4h-2.5z"/></g>
<g id="L97"><text class="l" x="340" y="768.2">0.0037</text><path class="r" d="M652 770.2h1.6v1.6h-1.6z"/><path class="b" d="M681 769.4h5"/><text class="n" x="343.5" y="771.3">Dapi_Dapi1g01293</text></g>
<g id="L98"><text class="l" x="340" y="776">0.0037</text><path class="r" d="M652 778h1.6v1.6h-1.6z"/><path class="b" d="M681 777.2h5"/><text class="n" x="343.5" y="779.1">Dapi_Dapi2g01295</text></g>
<g id="n625"><text class="l" x="312" y="796.8">0.000001</text><path class="r" d="M586 798.8h1.6v1.6h-1.6zM622.5 797.3h2.5v1.4h-2.5z"/></g>
<g id="n655"><text class="l" x="327" y="787.9">0.0237</text><path class="r" d="M626 789.9h1.6v1.6h-1.6zM652.5 788.4h2.5v1.4h-2.5z"/></g>
<g id="L99"><text class="l" x="365.5" y="783.9">0.0237</text><path class="r" d="M703 785.9h1.6v1.6h-1.6z"/><path class="b" d="M732 785.1h5"/><text class="n" x="369" y="787">Dapi_Dapi1g01255</text></g>
<g id="L100"><text class="l" x="366" y="791.8">0.000001</text><path class="r" d="M694 793.8h1.6v1.6h-1.6z"/><path class="b" d="M733 793h5"/><text class="n" x="369.5" y="794.9">Dapi_Dapi2g01257</text></g>
<g id="n688b"><text class="l" x="343.5" y="805.6">0.0077</text><path class="r" d="M659 807.6h1.6v1.6h-1.6zM685.5 806.1h2.5v1.4h-2.5z"/></g>
<g id="L101"><text class="l" x="360.5" y="799.7">0.0065</text><path class="r" d="M693 801.7h1.6v1.6h-1.6z"/><path class="b" d="M722 800.9h5"/><text class="n" x="364" y="802.8">Cobi_Cobi7g00342</text></g>
<g id="n730"><text class="l" x="364.5" y="811.5">0.0087</text><path class="r" d="M701 813.5h1.6v1.6h-1.6zM727.5 812h2.5v1.4h-2.5z"/></g>
<g id="L102"><text class="l" x="385.5" y="807.5">0.0344</text><path class="r" d="M743 809.5h1.6v1.6h-1.6z"/><path class="b" d="M772 808.7h5"/><text class="n" x="389" y="810.6">Bial_Bial9g02846</text></g>
<g id="L103"><text class="l" x="380.5" y="815.4">0.000001</text><path class="r" d="M723 817.4h1.6v1.6h-1.6z"/><path class="b" d="M762 816.6h5"/><text class="n" x="384" y="818.5">Bial_Bial3g02852</text></g>
<g id="n523"><text class="l" x="261" y="827.2">0.037</text><path class="r" d="M499 829.2h1.6v1.6h-1.6zM520.5 827.7h2.5v1.4h-2.5z"/></g>
<g id="L104"><text class="l" x="292" y="823.3">0.0866</text><path class="r" d="M556 825.3h1.6v1.6h-1.6z"/><path class="b" d="M585 824.5h5"/><text class="n" x="295.5" y="826.4">Cpa_Cpa1000043.1g00082</text></g>
<g id="L105"><text class="l" x="277" y="831.1">0.0287</text><path class="r" d="M526 833.1h1.6v1.6h-1.6z"/><path class="b" d="M555 832.3h5"/><text class="n" x="280.5" y="834.2">Pin_Pin123g00001</text></g>
<g id="n510c"><text class="l" x="254.5" y="903.3">0.000001</text><path class="r" d="M471 905.3h1.6v1.6h-1.6zM507.5 903.8h2.5v1.4h-2.5z"/></g>
<g id="n551"><text class="l" x="275" y="854.8">0.000001</text><path class="r" d="M512 856.8h1.6v1.6h-1.6zM548.5 855.3h2.5v1.4h-2.5z"/></g>
<g id="L106"><text class="l" x="291" y="839">0.0804</text><path class="r" d="M554 841h1.6v1.6h-1.6z"/><path class="b" d="M583 840.2h5"/><text class="n" x="294.5" y="842.1">Poy_Poy7g01081</text></g>
<g id="n602b"><text class="l" x="300.5" y="870.6">0.0286</text><path class="r" d="M573 872.6h1.6v1.6h-1.6zM599.5 871.1h2.5v1.4h-2.5z"/></g>
<g id="L107"><text class="l" x="313.5" y="846.9">0.0217</text><path class="r" d="M599 848.9h1.6v1.6h-1.6z"/><path class="b" d="M628 848.1h5"/><text class="n" x="317" y="850">Sela_Sela4g02512</text></g>
<g id="n643"><text class="l" x="321" y="894.3">0.000001</text><path class="r" d="M604 896.3h1.6v1.6h-1.6zM640.5 894.8h2.5v1.4h-2.5z"/></g>
<g id="n685b"><text class="l" x="342" y="874.7">0.000001</text><path class="r" d="M646 876.7h1.6v1.6h-1.6zM682.5 875.2h2.5v1.4h-2.5z"/></g>
<g id="n720b"><text class="l" x="359.5" y="858.7">0.0388</text><path class="r" d="M691 860.7h1.6v1.6h-1.6zM717.5 859.2h2.5v1.4h-2.5z"/></g>
<g id="L108"><text class="l" x="377" y="854.7">0.0388</text><path class="r" d="M726 856.7h1.6v1.6h-1.6z"/><path class="b" d="M755 855.9h5"/><text class="n" x="380.5" y="857.8">Chna_Chna5g05255</text></g>
<g id="L109"><text class="l" x="374.5" y="862.6">0.0026</text><path class="r" d="M721 864.6h1.6v1.6h-1.6z"/><path class="b" d="M750 863.8h5"/><text class="n" x="378" y="865.7">Chna_Chna6g05285</text></g>
<g id="n732"><text class="l" x="365.5" y="890.7">0.0386</text><path class="r" d="M703 892.7h1.6v1.6h-1.6zM729.5 891.2h2.5v1.4h-2.5z"/></g>
<g id="n772"><text class="l" x="385.5" y="879.4">0.000001</text><path class="r" d="M733 881.4h1.6v1.6h-1.6zM769.5 879.9h2.5v1.4h-2.5z"/></g>
<g id="L110"><text class="l" x="402" y="870.5">0.000001</text><path class="r" d="M766 872.5h1.6v1.6h-1.6z"/><path class="b" d="M805 871.7h5"/><text class="n" x="405.5" y="873.6">Chna_Chna1g03098</text></g>
<g id="n813b"><text class="l" x="406" y="888.2">0.000001</text><path class="r" d="M774 890.2h1.6v1.6h-1.6zM810.5 888.7h2.5v1.4h-2.5z"/></g>
<g id="n843"><text class="l" x="421" y="882.3">0.0337</text><path class="r" d="M814 884.3h1.6v1.6h-1.6zM840.5 882.8h2.5v1.4h-2.5z"/></g>
<g id="L111"><text class="l" x="444.5" y="878.3">0.0344</text><path class="r" d="M861 880.3h1.6v1.6h-1.6z"/><path class="b" d="M890 879.5h5"/><text class="n" x="448" y="881.4">Chna_Chna10g00217</text></g>
<g id="L112"><text class="l" x="439.5" y="886.2">0.0077</text><path class="r" d="M851 888.2h1.6v1.6h-1.6z"/><path class="b" d="M880 887.4h5"/><text class="n" x="443" y="889.3">Cind_Cind6g03478</text></g>
<g id="L113"><text class="l" x="423" y="894.1">0.0137</text><path class="r" d="M818 896.1h1.6v1.6h-1.6z"/><path class="b" d="M847 895.3h5"/><text class="n" x="426.5" y="897.2">Chna_Chna6g02528</text></g>
<g id="L114"><text class="l" x="382" y="902">0.000001</text><path class="r" d="M726 904h1.6v1.6h-1.6z"/><path class="b" d="M765 903.2h5"/><text class="n" x="385.5" y="905.1">Chna_Chna7g02453</text></g>
<g id="n685c"><text class="l" x="342" y="913.8">0.000001</text><path class="r" d="M646 915.8h1.6v1.6h-1.6zM682.5 914.3h2.5v1.4h-2.5z"/></g>
<g id="L115"><text class="l" x="358.5" y="909.8">0.0237</text><path class="r" d="M689 911.8h1.6v1.6h-1.6z"/><path class="b" d="M718 911h5"/><text class="n" x="362" y="912.9">Aann_Aann4g00205</text></g>
<g id="L116"><text class="l" x="355.5" y="917.7">0.000</text><path class="r" d="M688 919.7h1.6v1.6h-1.6z"/><path class="b" d="M712 918.9h5"/><text class="n" x="359" y="920.8">Arir_Arir2g07189</text></g>
<g id="n552"><text class="l" x="275.5" y="951.7">0.000001</text><path class="r" d="M513 953.7h1.6v1.6h-1.6zM549.5 952.2h2.5v1.4h-2.5z"/></g>
<g id="n587a"><text class="l" x="293" y="937.4">0.0388</text><path class="r" d="M558 939.4h1.6v1.6h-1.6zM584.5 937.9h2.5v1.4h-2.5z"/></g>
<g id="n622a"><text class="l" x="310.5" y="929.5">0.000001</text><path class="r" d="M583 931.5h1.6v1.6h-1.6zM619.5 930h2.5v1.4h-2.5z"/></g>
<g id="L117"><text class="l" x="327" y="925.6">0.000001</text><path class="r" d="M616 927.6h1.6v1.6h-1.6z"/><path class="b" d="M655 926.8h5"/><text class="n" x="330.5" y="928.7">Ecan_Ecan4g00488</text></g>
<g id="L118"><text class="l" x="327" y="933.4">0.0157</text><path class="r" d="M626 935.4h1.6v1.6h-1.6z"/><path class="b" d="M655 934.6h5"/><text class="n" x="330.5" y="936.5">Enbr_Enbr4g04429</text></g>
<g id="n628b"><text class="l" x="313.5" y="945.3">0.000001</text><path class="r" d="M589 947.3h1.6v1.6h-1.6zM625.5 945.8h2.5v1.4h-2.5z"/></g>
<g id="L119"><text class="l" x="329.5" y="941.3">0.0077</text><path class="r" d="M631 943.3h1.6v1.6h-1.6z"/><path class="b" d="M660 942.5h5"/><text class="n" x="333" y="944.4">Scae_Scae10000079g03484</text></g>
<g id="L120"><text class="l" x="329.5" y="949.2">0.000001</text><path class="r" d="M621 951.2h1.6v1.6h-1.6z"/><path class="b" d="M660 950.4h5"/><text class="n" x="333" y="952.3">Soca_Soca5g04805</text></g>
<g id="n587b"><text class="l" x="293" y="965.9">0.0387</text><path class="r" d="M558 967.9h1.6v1.6h-1.6zM584.5 966.4h2.5v1.4h-2.5z"/></g>
<g id="L121"><text class="l" x="309.5" y="957">0.0144</text><path class="r" d="M591 959h1.6v1.6h-1.6z"/><path class="b" d="M620 958.2h5"/><text class="n" x="313" y="960.1">Lami_Lami4g01143</text></g>
<g id="n622b"><text class="l" x="310.5" y="974.8">0.0237</text><path class="r" d="M593 976.8h1.6v1.6h-1.6zM619.5 975.3h2.5v1.4h-2.5z"/></g>
<g id="n663b"><text class="l" x="331" y="968.9">0.000001</text><path class="r" d="M624 970.9h1.6v1.6h-1.6zM660.5 969.4h2.5v1.4h-2.5z"/></g>
<g id="L122"><text class="l" x="348" y="964.9">0.000001</text><path class="r" d="M658 966.9h1.6v1.6h-1.6z"/><path class="b" d="M697 966.1h5"/><text class="n" x="351.5" y="968">Heub_Heub010000005.1g01271</text></g>
<g id="L123"><text class="l" x="348" y="972.8">0.0067</text><path class="r" d="M668 974.8h1.6v1.6h-1.6z"/><path class="b" d="M697 974h5"/><text class="n" x="351.5" y="975.9">Falu_Falu5g14543</text></g>
<g id="L124"><text class="l" x="331" y="980.7">0.0257</text><path class="r" d="M634 982.7h1.6v1.6h-1.6z"/><path class="b" d="M663 981.9h5"/><text class="n" x="334.5" y="983.8">Lomi_Lomi4g03205</text></g>
<g id="scale"><path d="M4 988H56M4 986V990M56 986V990" stroke="#333" stroke-width="1" fill="none"/><text class="n" x="4.5" y="996.5">0.05</text></g>
</svg>
